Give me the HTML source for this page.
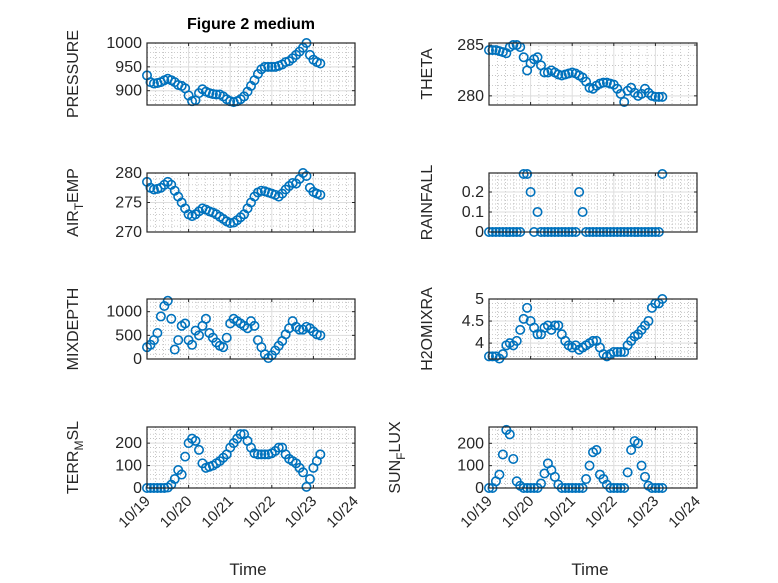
<!DOCTYPE html>
<html><head><meta charset="utf-8">
<style>
body{margin:0;background:#fff;}
svg{display:block;font-family:"Liberation Sans","DejaVu Sans",sans-serif;}
</style></head>
<body>
<svg id="fig" width="778" height="583" viewBox="0 0 778 583">
<rect width="778" height="583" fill="#fff"/>
<text x="251" y="29" text-anchor="middle" font-size="16" font-weight="bold" fill="#000">Figure 2 medium</text>
</svg>
<script>
const hours = [0,2,4,6,8,10,12,14,16,18,20,22,24,26,28,30,32,34,36,38,40,42,44,46,48,50,52,54,56,58,60,62,64,66,68,70,72,74,76,78,80,82,84,86,88,90,92,94,96,98,100];
const xTickLabels = ["10/19","10/20","10/21","10/22","10/23","10/24"];
const pressure = [932,918,915,916,918,922,925,922,918,912,910,905,890,878,880,895,903,898,895,893,892,892,888,882,878,876,878,882,888,898,910,922,935,945,950,950,950,950,952,955,960,962,968,975,982,990,1000,975,965,960,957];
const theta = [284.5,284.5,284.5,284.4,284.3,284.2,284.8,285,285,284.8,283.8,282.5,283.2,283.6,283.8,283,282.3,282.3,282.5,282.3,282.1,282,282.1,282.2,282.3,282.2,282,281.8,281.4,280.8,280.7,281,281.2,281.3,281.3,281.2,281.1,280.7,280.2,279.4,280.5,280.8,280.3,280,280.2,280.7,280.3,280,279.9,279.9,279.9];
const airTemp = [278.5,277.5,277.2,277.3,277.5,278,278.5,278,277,276,275,274,273,272.7,273,273.5,274,273.8,273.5,273.3,273,272.6,272.2,271.8,271.5,271.6,272,272.5,273,274,275,276,276.7,277,276.9,276.7,276.5,276.3,276,276.5,277.2,277.8,278.3,278.2,279,280,279.5,277.5,276.8,276.5,276.3];
const rainfall = [0,0,0,0,0,0,0,0,0,0,0.29,0.29,0.2,0,0.1,0,0,0,0,0,0,0,0,0,0,0,0.2,0.1,0,0,0,0,0,0,0,0,0,0,0,0,0,0,0,0,0,0,0,0,0,0,0.29];
const mixDepth = [250,300,400,550,900,1120,1230,850,200,400,700,750,400,300,600,500,700,850,550,450,350,280,250,450,750,850,800,750,700,650,800,700,400,250,100,20,80,180,280,380,520,650,800,680,620,620,680,650,580,520,500];
const h2oMix = [3.7,3.7,3.7,3.65,3.75,3.95,4.0,3.95,4.05,4.3,4.55,4.8,4.5,4.35,4.2,4.2,4.35,4.4,4.3,4.4,4.4,4.2,4.05,3.95,3.9,3.95,3.85,3.9,3.95,4.0,4.05,4.05,3.9,3.75,3.7,3.75,3.8,3.8,3.8,3.8,3.95,4.05,4.15,4.2,4.3,4.4,4.5,4.8,4.9,4.9,5.0];
const terrMsl = [0,0,0,0,0,0,2,15,40,80,60,140,200,220,210,170,110,90,95,100,110,120,135,150,180,200,220,240,240,210,180,155,150,150,150,150,155,165,180,180,150,130,120,110,90,70,5,40,90,120,150];
const sunFlux = [0,0,30,60,150,260,240,130,30,10,0,0,0,0,0,20,65,110,80,50,15,0,0,0,0,0,0,0,40,100,160,170,60,40,15,0,0,0,0,0,70,170,210,200,100,50,10,0,0,0,0];

const NS="http://www.w3.org/2000/svg";
const svg=document.getElementById('fig');
function mk(tag,attrs,parent){const e=document.createElementNS(NS,tag);for(const k in attrs)e.setAttribute(k,attrs[k]);(parent||svg).appendChild(e);return e;}

const panels=[
 {name:'pressure',label:['PRESSURE'],vals:pressure,x0:147,y0:43,y1:105,ymin:870,ymax:1000,ticks:[900,950,1000],tl:['900','950','1000'],xl:false,lx:78},
 {name:'theta',label:['THETA'],vals:theta,x0:489,y0:43,y1:105,ymin:279.1,ymax:285.2,ticks:[280,285],tl:['280','285'],xl:false,lx:432},
 {name:'air-temp',label:['AIR','T','EMP'],vals:airTemp,x0:147,y0:173,y1:232,ymin:270,ymax:280,ticks:[270,275,280],tl:['270','275','280'],xl:false,lx:78},
 {name:'rainfall',label:['RAINFALL'],vals:rainfall,x0:489,y0:173,y1:232,ymin:0,ymax:0.295,ticks:[0,0.1,0.2],tl:['0','0.1','0.2'],xl:false,lx:432},
 {name:'mix-depth',label:['MIXDEPTH'],vals:mixDepth,x0:147,y0:299,y1:359,ymin:0,ymax:1268,ticks:[0,500,1000],tl:['0','500','1000'],xl:false,lx:78},
 {name:'h2o-mixra',label:['H2OMIXRA'],vals:h2oMix,x0:489,y0:299,y1:359,ymin:3.64,ymax:5,ticks:[4,4.5,5],tl:['4','4.5','5'],xl:false,lx:432},
 {name:'terr-msl',label:['TERR','M','SL'],vals:terrMsl,x0:147,y0:427,y1:488,ymin:0,ymax:272,ticks:[0,100,200],tl:['0','100','200'],xl:true,lx:78},
 {name:'sun-flux',label:['SUN','F','LUX'],vals:sunFlux,x0:489,y0:427,y1:488,ymin:0,ymax:273,ticks:[0,100,200],tl:['0','100','200'],xl:true,lx:400}
];
const W=208, DAYS=5;

panels.forEach(p=>{
  const g=mk('g',{});
  
  
  const X=h=>p.x0+(h/24)/DAYS*W;
  const Y=v=>p.y1-(v-p.ymin)/(p.ymax-p.ymin)*(p.y1-p.y0);
  mk('rect',{x:p.x0,y:p.y0,width:W,height:p.y1-p.y0,fill:'#fff'},g);
  for(let d=0;d<DAYS;d++)for(let m=1;m<5;m++){const x=p.x0+(d+m/5)/DAYS*W;
    mk('line',{x1:x,x2:x,y1:p.y0,y2:p.y1,stroke:'#b0b0b0','stroke-width':0.7,'stroke-dasharray':'1 2'},g);}
  const step=p.ticks[1]-p.ticks[0];
  for(let v=p.ticks[0]-step;v<=p.ymax+step;v+=step/5){const y=Y(v);if(y>p.y0+0.5&&y<p.y1-0.5)
    mk('line',{x1:p.x0,x2:p.x0+W,y1:y,y2:y,stroke:'#b0b0b0','stroke-width':0.7,'stroke-dasharray':'1 2'},g);}
  for(let d=1;d<DAYS;d++){const x=p.x0+d/DAYS*W;mk('line',{x1:x,x2:x,y1:p.y0,y2:p.y1,stroke:'#dedede','stroke-width':1},g);}
  p.ticks.forEach((v,i)=>{const y=Y(v);
    mk('line',{x1:p.x0,x2:p.x0+W,y1:y,y2:y,stroke:'#dedede','stroke-width':1},g);
    mk('line',{x1:p.x0,x2:p.x0+3,y1:y,y2:y,stroke:'#262626'},g);
    mk('line',{x1:p.x0+W-3,x2:p.x0+W,y1:y,y2:y,stroke:'#262626'},g);
    const t=mk('text',{x:p.x0-5,y:y+5,'text-anchor':'end','font-size':16,fill:'#262626'},g);
    t.textContent=p.tl[i];
    
    
  });
  xTickLabels.forEach((lab,i)=>{const x=p.x0+i/DAYS*W;
    mk('line',{x1:x,x2:x,y1:p.y1,y2:p.y1-3,stroke:'#262626'},g);
    mk('line',{x1:x,x2:x,y1:p.y0,y2:p.y0+3,stroke:'#262626'},g);
    if(p.xl){const t=mk('text',{x:x+4,y:p.y1+14,'text-anchor':'end','font-size':15,fill:'#262626',transform:`rotate(-45 ${x+4} ${p.y1+14})`},g);
      t.textContent=lab;
      
      }
  });
  p.vals.forEach((v,i)=>{
    const c=mk('circle',{cx:X(hours[i]),cy:Y(v),r:4.2,fill:'none',stroke:'#0072BD','stroke-width':1.6},g);
    
    
  });
  mk('rect',{x:p.x0,y:p.y0,width:W,height:p.y1-p.y0,fill:'none',stroke:'#262626','stroke-width':1.2},g);
  const cy=(p.y0+p.y1)/2;
  const t=mk('text',{x:p.lx,y:cy,'text-anchor':'middle','font-size':16,fill:'#262626',transform:`rotate(-90 ${p.lx} ${cy})`},g);
  
  
  if(p.label.length===1){t.textContent=p.label[0];}
  else{
    const a=mk('tspan',{},t);a.textContent=p.label[0];
    const b=mk('tspan',{dy:5,'font-size':12},t);b.textContent=p.label[1];
    const c=mk('tspan',{dy:-5},t);c.textContent=p.label[2];
  }
  if(p.xl){
    const tt=mk('text',{x:p.x0+W/2-3,y:575,'text-anchor':'middle','font-size':17,fill:'#262626'},g);
    tt.textContent='Time';
    
    
  }
});
</script>
</body></html>
